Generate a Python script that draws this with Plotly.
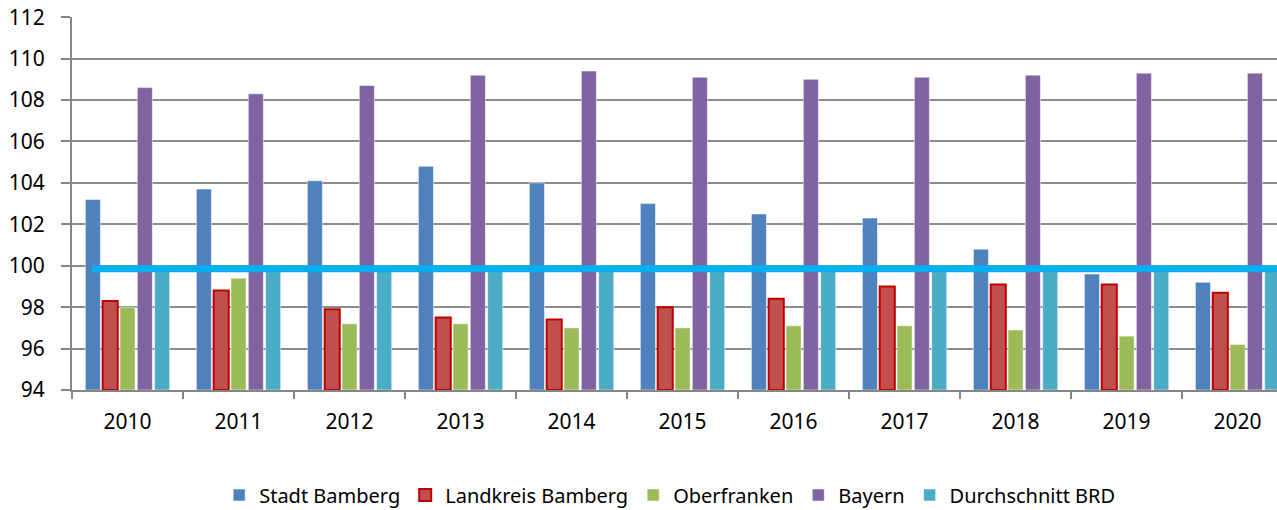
import plotly.graph_objects as go

years = ["2010", "2011", "2012", "2013", "2014", "2015", "2016", "2017", "2018", "2019", "2020"]
stadt_bamberg = [103.2, 103.7, 104.1, 104.8, 104.0, 103.0, 102.5, 102.3, 100.8, 99.6, 99.2]
landkreis_bamberg = [98.3, 98.8, 97.9, 97.5, 97.4, 98.0, 98.4, 99.0, 99.1, 99.1, 98.7]
oberfranken = [98.0, 99.4, 97.2, 97.2, 97.0, 97.0, 97.1, 97.1, 96.9, 96.6, 96.2]
bayern = [108.6, 108.3, 108.7, 109.2, 109.4, 109.1, 109.0, 109.1, 109.2, 109.3, 109.3]
durchschnitt_brd = [100, 100, 100, 100, 100, 100, 100, 100, 100, 100, 100]
brd_line = 99.85
y_ticks = [94, 96, 98, 100, 102, 104, 106, 108, 110, 112]

FONT = "Noto Sans"
FS = 21

fig = go.Figure()
series = [
    ("Stadt Bamberg", stadt_bamberg, "#4F81BD", "rgba(255,255,255,0.5)", 1),
    ("Landkreis Bamberg", landkreis_bamberg, "#C0504D", "#C00000", 2),
    ("Oberfranken", oberfranken, "#9BBB59", "rgba(255,255,255,0.5)", 1),
    ("Bayern", bayern, "#8064A2", "rgba(255,255,255,0.5)", 1),
    ("Durchschnitt BRD", durchschnitt_brd, "#4BACC6", "rgba(255,255,255,0.5)", 1),
]
for name, vals, col, lcol, lw in series:
    fig.add_trace(go.Bar(
        x=years, y=[v - 94 for v in vals], base=94, name=name,
        marker=dict(color=col, line=dict(color=lcol, width=lw)),
        hoverinfo="skip",
    ))

fig.add_shape(type="line", xref="paper", yref="y", x0=0.0166, x1=1.0,
              y0=brd_line, y1=brd_line, line=dict(color="#00B0F0", width=7), layer="above")

fig.update_layout(
    width=1277, height=510,
    margin=dict(l=72, r=0, t=17, b=120, autoexpand=False),
    paper_bgcolor="white", plot_bgcolor="white",
    barmode="group", bargap=0.22, bargroupgap=0.13,
    hovermode=False,
    font=dict(family=FONT, size=FS, color="black"),
    showlegend=True,
    legend=dict(orientation="h", xanchor="center", x=0.496, yanchor="middle", y=-0.2815,
                font=dict(family=FONT, size=20, color="black"), itemwidth=30,
                traceorder="normal", itemclick=False),
    xaxis=dict(type="category", range=[-0.5, 10.355], showgrid=False, automargin=False,
               showline=True, linecolor="#868686", linewidth=2,
               ticks="outside", tickson="boundaries", ticklen=7, tickcolor="#868686", tickwidth=2,
               ticklabelstandoff=12,
               tickfont=dict(family=FONT, size=FS, color="black")),
    yaxis=dict(range=[94, 112.01], tickvals=y_ticks, showgrid=True, gridcolor="#8C8C8C", gridwidth=2,
               automargin=False,
               showline=True, linecolor="#868686", linewidth=2, zeroline=False,
               ticks="outside", ticklen=9, tickcolor="#868686", tickwidth=2,
               ticklabelstandoff=12,
               tickfont=dict(family=FONT, size=FS, color="black")),
)

fig.write_html("out.html", config={"displayModeBar": False},
               post_script="document.body.style.margin='0';document.body.style.overflow='hidden';")
